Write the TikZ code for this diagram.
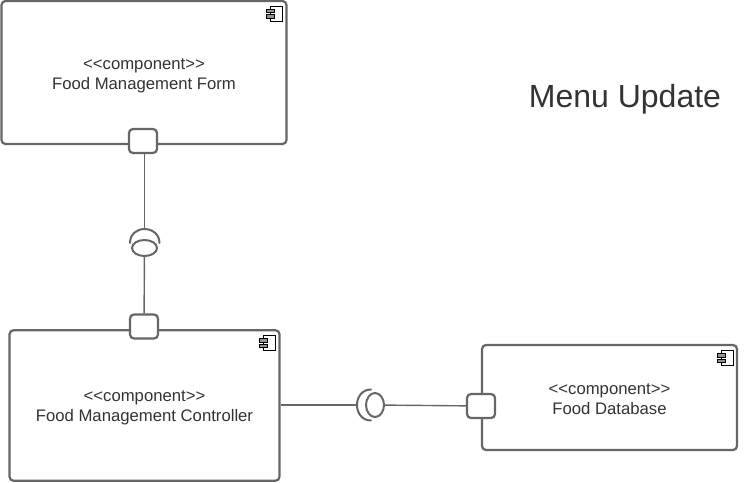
\documentclass[tikz,border=0pt]{standalone}
\usepackage{fontspec}
\usetikzlibrary{shapes.geometric}
\setmainfont{Liberation Sans}[Ligatures=NoCommon]
\definecolor{linegray}{HTML}{666666}
\definecolor{textgray}{HTML}{333333}
\tikzset{
  x=1pt,y=-1pt,
  compbox/.style={draw=linegray,line width=2.2pt,rounded corners=4pt,fill=white,inner sep=0pt,align=center,text=textgray,font=\fontsize{16.7}{20}\selectfont},
  portbox/.style={draw=linegray,line width=2.2pt,rounded corners=4pt,fill=white,inner sep=0pt,minimum width=28pt,minimum height=24pt},
  ball/.style={draw=linegray,line width=2pt,ellipse,fill=white,inner sep=0pt},
  socket/.style={draw=linegray,line width=2pt,line cap=round},
  wire/.style={draw=linegray,line width=1.4pt},
  title/.style={text=textgray,font=\fontsize{32}{38}\selectfont,inner sep=0pt},
  pics/compicon/.style={code={
    \draw[black,line width=1pt,fill=white] (-12,-7.5) rectangle (0,7.5);
    \draw[black,line width=1pt,fill=linegray!70] (-16,-4.5) rectangle (-8,-0.8);
    \draw[black,line width=1pt,fill=linegray!70] (-16,1.2) rectangle (-8,4.9);
  }}
}
\newcommand{\stereo}{{<}{<}component{>}{>}}
\begin{document}
\begin{tikzpicture}
\useasboundingbox (0,0) rectangle (752,482);
\node[compbox,minimum width=285pt,minimum height=143pt] (form) at (144,72.5) {};
\node[compbox,minimum width=270pt,minimum height=150.5pt] (ctrl) at (144.5,405.5) {};
\node[compbox,minimum width=255pt,minimum height=105pt] (db) at (609.5,397.5) {};
\node[compbox,draw=none,fill=none] (formtext) at (144,75.5) {\stereo\\Food Management Form};
\node[compbox,draw=none,fill=none] (ctrltext) at (144.5,407.5) {\stereo\\Food Management Controller};
\node[compbox,draw=none,fill=none] (dbtext) at (609.5,399.5) {\stereo\\Food Database};
\node[title,anchor=center] (menutitle) at (625,99) {Menu Update};
\pic at (282,13.5) {compicon};
\pic at (275,343) {compicon};
\pic at (733,358) {compicon};
\node[portbox] (p1) at (143,141) {};
\node[portbox] (p2) at (144,326.5) {};
\node[portbox] (p3) at (481,406) {};
\node[ball,minimum width=25pt,minimum height=16pt] (b1) at (144.5,248) {};
\node[ball,minimum width=18pt,minimum height=24pt] (b2) at (375,405) {};
\coordinate (s1) at (144.5,229);
\coordinate (s2) at (357,405);
\draw[socket] (130,243) .. controls (130,234) and (137,229) .. (s1) .. controls (152,229) and (159.5,234) .. (159.5,243);
\draw[socket] (371,389.5) .. controls (362,389.5) and (357,397) .. (s2) .. controls (357,413) and (362,420.5) .. (371,420.5);
\draw[wire] (s1 |- p1.south) -- (s1);
\draw[wire] (b1) -- (p2);
\draw[wire] (ctrl.east |- s2) -- (s2);
\draw[wire] (b2) -- (p3);
\end{tikzpicture}
\end{document}
